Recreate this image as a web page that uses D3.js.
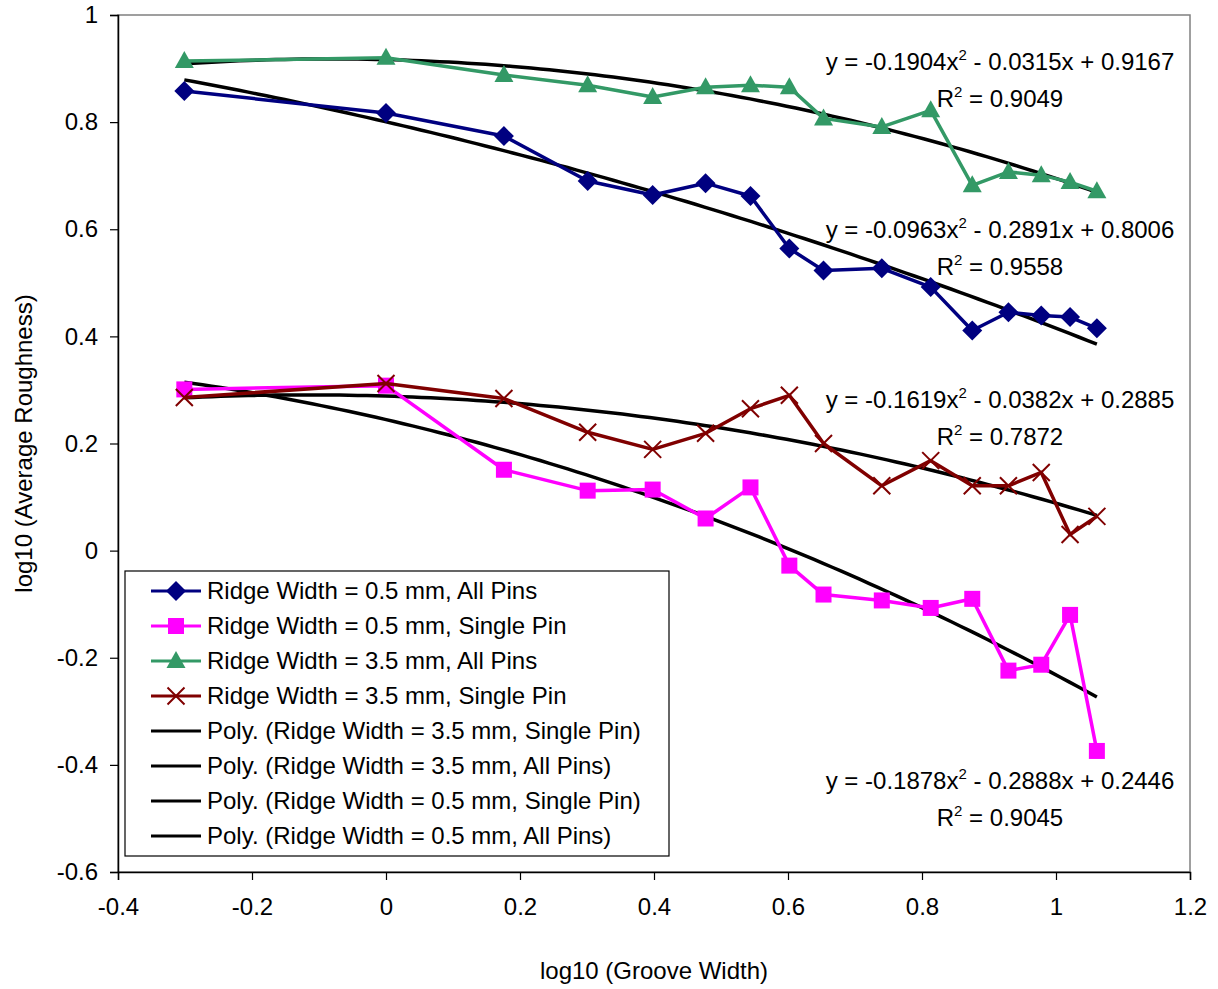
<!DOCTYPE html>
<html><head><meta charset="utf-8">
<script src="https://cdn.jsdelivr.net/npm/d3@7"></script>
<style>
body{margin:0;background:#fff;}
text{font-family:"Liberation Sans",Arial,sans-serif;}
</style></head>
<body>
<svg id="chart" width="1218" height="989"></svg>
<script>
// ---- data ----
const xValues = [-0.301, 0, 0.176, 0.301, 0.398, 0.477, 0.544, 0.602, 0.653, 0.740, 0.813, 0.875, 0.929, 0.978, 1.021, 1.061];
const ridge05All    = [0.858, 0.817, 0.774, 0.690, 0.664, 0.686, 0.662, 0.564, 0.523, 0.527, 0.492, 0.411, 0.445, 0.439, 0.436, 0.415];
const ridge05Single = [0.301, 0.308, 0.151, 0.112, 0.114, 0.060, 0.118, -0.028, -0.082, -0.093, -0.107, -0.090, -0.224, -0.213, -0.120, -0.374];
const ridge35All    = [0.914, 0.920, 0.888, 0.869, 0.847, 0.865, 0.869, 0.865, 0.807, 0.791, 0.822, 0.682, 0.707, 0.701, 0.688, 0.671];
const ridge35Single = [0.286, 0.312, 0.284, 0.221, 0.189, 0.219, 0.265, 0.290, 0.200, 0.121, 0.168, 0.121, 0.121, 0.146, 0.030, 0.064];
const seriesNames = ["Ridge Width = 0.5 mm, All Pins", "Ridge Width = 0.5 mm, Single Pin", "Ridge Width = 3.5 mm, All Pins", "Ridge Width = 3.5 mm, Single Pin"];
const trendNames = ["Poly. (Ridge Width = 3.5 mm, Single Pin)", "Poly. (Ridge Width = 3.5 mm, All Pins)", "Poly. (Ridge Width = 0.5 mm, Single Pin)", "Poly. (Ridge Width = 0.5 mm, All Pins)"];
// polynomial coefficients [a, b, c] for y = a x^2 + b x + c (as printed on chart)
const coef35All    = [-0.1904, -0.0315, 0.9167];
const coef05All    = [-0.0963, -0.2891, 0.8006];
const coef35Single = [-0.1619, -0.0382, 0.2885];
const coef05Single = [-0.1878, -0.2888, 0.2446];
const r2Values = ["0.9049", "0.9558", "0.7872", "0.9045"];
const xTicks = [-0.4, -0.2, 0, 0.2, 0.4, 0.6, 0.8, 1, 1.2];
const yTicks = [-0.6, -0.4, -0.2, 0, 0.2, 0.4, 0.6, 0.8, 1];

// ---- layout ----
const svg = d3.select("#chart");
const L = 118, R = 1190, T = 15, B = 872;
const x = d3.scaleLinear().domain([-0.4, 1.2]).range([L, R]);
const y = d3.scaleLinear().domain([-0.6, 1]).range([B, T]);
const FS = 24;

// plot border (top/right gray)
svg.append("rect").attr("x", L).attr("y", T).attr("width", R - L).attr("height", B - T)
  .attr("fill", "none").attr("stroke", "#808080").attr("stroke-width", 1.5);

const fmt = d => String(d);
const xAxis = svg.append("g").attr("transform", `translate(0,${B})`)
  .call(d3.axisBottom(x).tickValues(xTicks).tickSize(8).tickPadding(18).tickFormat(fmt));
const yAxis = svg.append("g").attr("transform", `translate(${L},0)`)
  .call(d3.axisLeft(y).tickValues(yTicks).tickSize(8).tickPadding(12).tickFormat(fmt));
[xAxis, yAxis].forEach(g => {
  g.select(".domain").attr("stroke", "#000").attr("stroke-width", 1.5);
  g.selectAll(".tick line").attr("stroke", "#000").attr("stroke-width", 1.2);
  g.selectAll("text").attr("font-size", FS).attr("font-family", "Liberation Sans, Arial, sans-serif").attr("fill", "#000");
});

svg.append("text").attr("x", (L + R) / 2).attr("y", 979).attr("text-anchor", "middle")
  .attr("font-size", FS).text("log10 (Groove Width)");
svg.append("text").attr("transform", `translate(32,${(T + B) / 2}) rotate(-90)`).attr("text-anchor", "middle")
  .attr("font-size", FS).text("log10 (Average Roughness)");

// ---- trendlines ----
const plot = svg.append("g");
const x0 = d3.min(xValues), x1 = d3.max(xValues);
const samples = d3.range(0, 101).map(i => x0 + (x1 - x0) * i / 100);
const poly = c => samples.map(v => [v, c[0] * v * v + c[1] * v + c[2]]);
const lineGen = d3.line().x(d => x(d[0])).y(d => y(d[1]));
[coef35Single, coef35All, coef05Single, coef05All].forEach(c => {
  plot.append("path").attr("d", lineGen(poly(c))).attr("fill", "none")
    .attr("stroke", "#000").attr("stroke-width", 3.5);
});

// ---- series ----
const colors = ["#000080", "#FF00FF", "#339966", "#800000"];
const shapes = ["diamond", "square", "triangle", "x"];
const seriesData = [ridge05All, ridge05Single, ridge35All, ridge35Single];

function marker(g, shape, cx, cy, color) {
  if (shape === "diamond") {
    g.append("path").attr("d", `M${cx},${cy - 10}L${cx + 10},${cy}L${cx},${cy + 10}L${cx - 10},${cy}Z`).attr("fill", color);
  } else if (shape === "square") {
    g.append("rect").attr("x", cx - 8).attr("y", cy - 8).attr("width", 16).attr("height", 16).attr("fill", color);
  } else if (shape === "triangle") {
    g.append("path").attr("d", `M${cx},${cy - 10}L${cx + 9.5},${cy + 7}L${cx - 9.5},${cy + 7}Z`).attr("fill", color);
  } else {
    g.append("path").attr("d", `M${cx - 8.5},${cy - 8.5}L${cx + 8.5},${cy + 8.5}M${cx - 8.5},${cy + 8.5}L${cx + 8.5},${cy - 8.5}`)
      .attr("stroke", color).attr("stroke-width", 2).attr("fill", "none");
  }
}

seriesData.forEach((vals, i) => {
  const pts = xValues.map((v, j) => [v, vals[j]]);
  plot.append("path").attr("d", lineGen(pts)).attr("fill", "none")
    .attr("stroke", colors[i]).attr("stroke-width", 3.5).attr("stroke-linejoin", "round");
  const g = plot.append("g");
  pts.forEach(p => marker(g, shapes[i], x(p[0]), y(p[1]), colors[i]));
});

// ---- equation labels ----
const eqCoefs = [coef35All, coef05All, coef35Single, coef05Single];
const eqCenters = [[1000, 62], [1000, 230], [1000, 400], [1000, 781]];
eqCoefs.forEach((c, i) => {
  const [cx, cy] = eqCenters[i];
  const t = svg.append("text").attr("x", cx).attr("y", cy + 8).attr("text-anchor", "middle").attr("font-size", FS);
  const sgn = v => v < 0 ? "- " : "+ ";
  t.append("tspan").text(`y = ${c[0].toFixed(4)}x`);
  t.append("tspan").attr("font-size", 15).attr("dy", -10).text("2");
  t.append("tspan").attr("dy", 10).text(` ${sgn(c[1])}${Math.abs(c[1]).toFixed(4)}x ${sgn(c[2])}${Math.abs(c[2]).toFixed(4)}`);
  const t2 = svg.append("text").attr("x", cx).attr("y", cy + 45).attr("text-anchor", "middle").attr("font-size", FS);
  t2.append("tspan").text("R");
  t2.append("tspan").attr("font-size", 15).attr("dy", -10).text("2");
  t2.append("tspan").attr("dy", 10).text(` = ${r2Values[i]}`);
});

// ---- legend ----
const lg = svg.append("g");
lg.append("rect").attr("x", 125).attr("y", 571).attr("width", 544).attr("height", 285)
  .attr("fill", "#fff").attr("stroke", "#000").attr("stroke-width", 1.2);
const allNames = seriesNames.concat(trendNames);
allNames.forEach((name, i) => {
  const ry = 591 + i * 35;
  const col = i < 4 ? colors[i] : "#000";
  lg.append("line").attr("x1", 151).attr("x2", 201).attr("y1", ry).attr("y2", ry)
    .attr("stroke", col).attr("stroke-width", 3);
  if (i < 4) marker(lg, shapes[i], 176, ry, col);
  lg.append("text").attr("x", 207).attr("y", ry + 8).attr("font-size", FS).text(name);
});
</script>
</body></html>
